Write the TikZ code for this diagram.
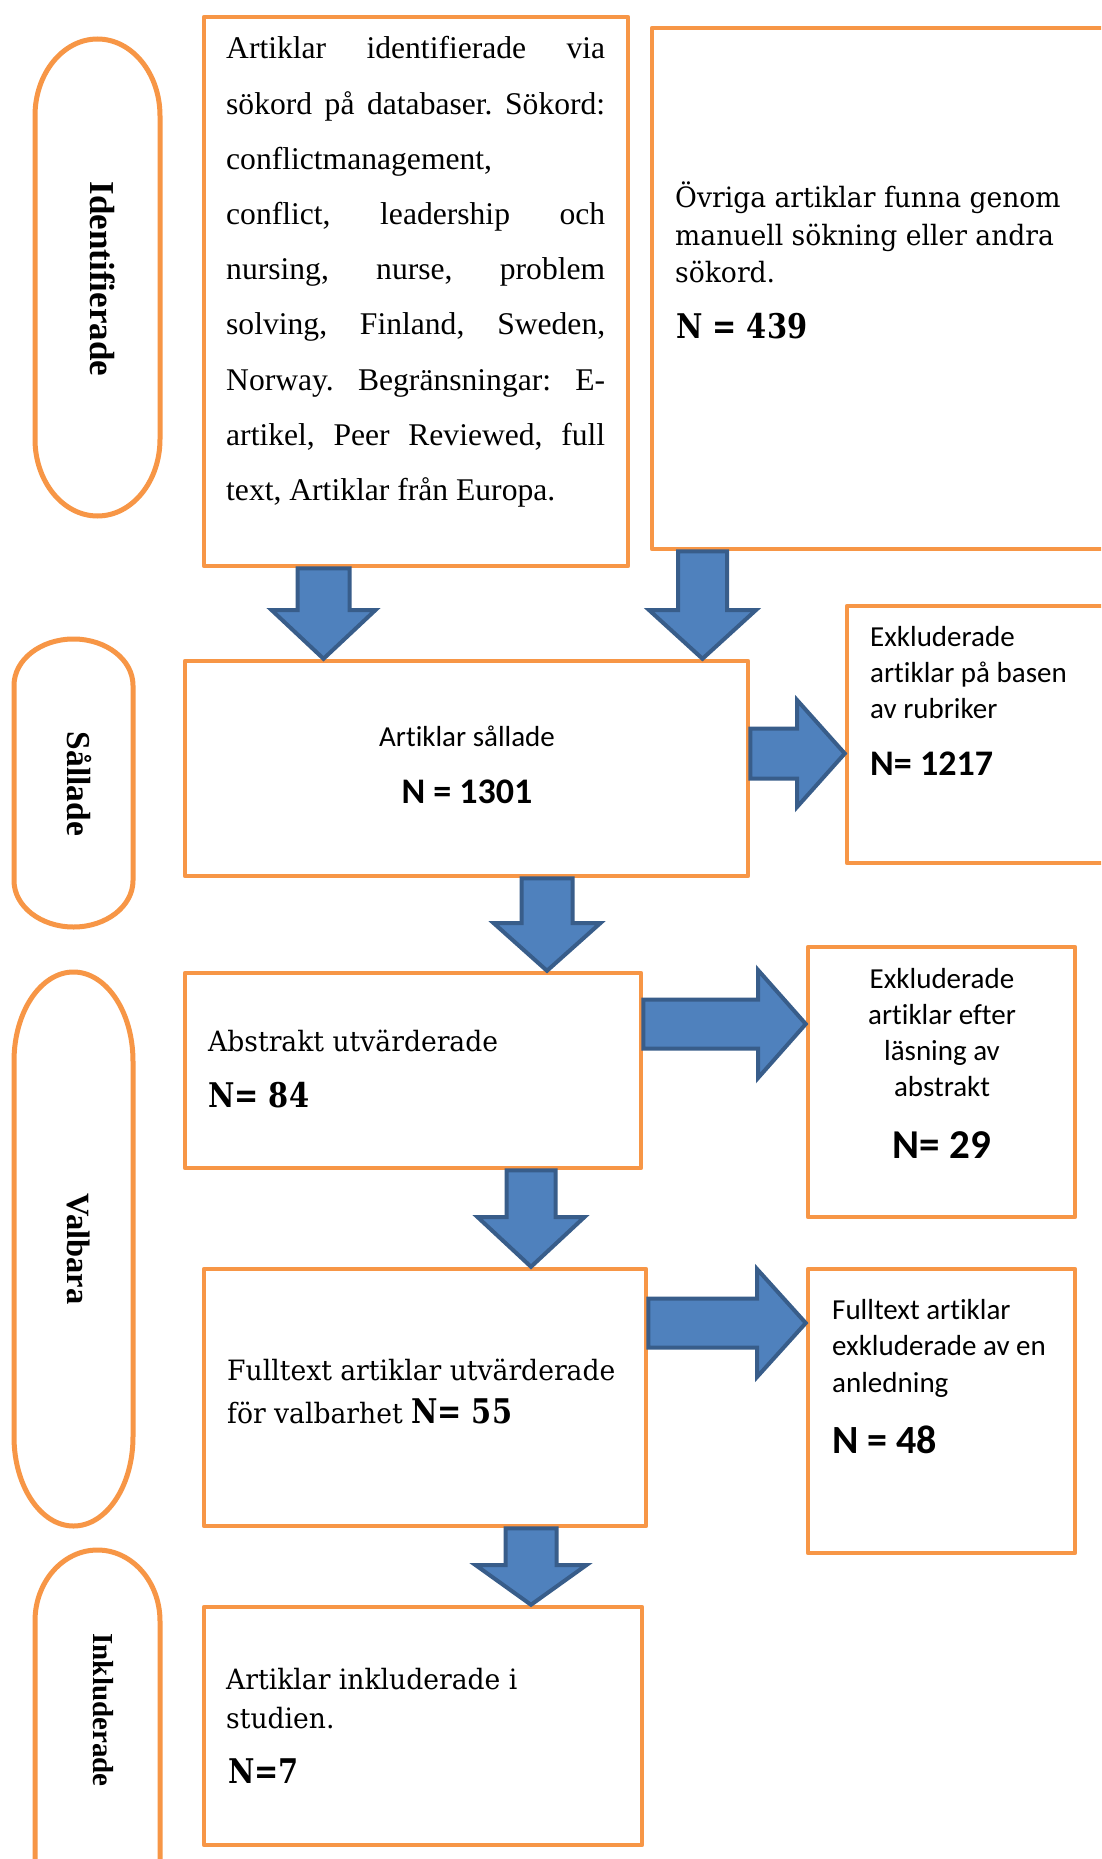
\documentclass[tikz,border=0pt]{standalone}
\usepackage{fontspec}
\usetikzlibrary{calc}

\newfontfamily\timesf[Ligatures=NoCommon]{Liberation Serif}
\newfontfamily\calf[Ligatures=NoCommon]{Carlito}
\newfontfamily\camf[FakeStretch=0.95,Ligatures=NoCommon]{DejaVu Serif}
\newfontfamily\cambf[FakeStretch=0.85]{DejaVu Serif}

\definecolor{boxorange}{HTML}{F79646}
\definecolor{arrowfill}{HTML}{4F81BD}
\definecolor{arrowline}{HTML}{385D8A}

\newcommand\fs[2]{\fontsize{#1pt}{#2pt}\selectfont}
% a stack of line boxes whose baseline is that of the first line
\newcommand\linesof[2]{\vtop{\baselineskip=#1pt\lineskiplimit=-200pt\lineskip=0pt #2}}

% block arrow pointing down: source, target, centre x, head base y, shaft half width, head half width
\newcommand\downblock[6]{%
  \draw[barrow] let \p1=(#1.south), \p2=(#2.north) in
    ({(#3-#5)*1pt},\y1) -- ({(#3+#5)*1pt},\y1) -- ({(#3+#5)*1pt},{-#4pt})
    -- ({(#3+#6)*1pt},{-#4pt}) -- ({#3pt},\y2) -- ({(#3-#6)*1pt},{-#4pt})
    -- ({(#3-#5)*1pt},{-#4pt}) -- cycle;}
% block arrow pointing right: source, target, centre y, head base x, shaft half width, head half width
\newcommand\rightblock[6]{%
  \draw[barrow] let \p1=(#1.east), \p2=(#2.west) in
    (\x1,{(#5-#3)*1pt}) -- ({#4pt},{(#5-#3)*1pt}) -- ({#4pt},{(#6-#3)*1pt})
    -- (\x2,{-#3pt}) -- ({#4pt},{(-#6-#3)*1pt}) -- ({#4pt},{(-#5-#3)*1pt})
    -- (\x1,{(-#5-#3)*1pt}) -- cycle;}
% vertical terminator outline: x1, y1, x2, y2, x radius, y radius
\newcommand\pillshape[6]{%
  \draw[pill] ({#1pt},{(-#2-#6)*1pt})
    arc[start angle=180,end angle=0,x radius=#5pt,y radius=#6pt]
    -- ({#3pt},{(-#4+#6)*1pt})
    arc[start angle=0,end angle=-180,x radius=#5pt,y radius=#6pt] -- cycle;}

\tikzset{
  box/.style={draw=boxorange, line width=4.5pt, fill=white, rectangle,
    inner sep=0pt, line join=round},
  pill/.style={draw=boxorange, line width=5pt},
  barrow/.style={draw=arrowline, fill=arrowfill, line width=4pt, line join=miter},
  txt/.style={inner sep=0pt, anchor=base west},
  ctxt/.style={inner sep=0pt, anchor=base},
  lab/.style={inner sep=0pt, rotate=-90},
}

\begin{document}
\frenchspacing
\begin{tikzpicture}[x=1pt,y=-1pt]
\useasboundingbox (0,0) rectangle (1101,1859);
\clip (0,0) rectangle (1101,1859);
\fill[white] (0,0) rectangle (1101,1859);

% stage labels
\pillshape{35}{39}{160}{516}{62.5}{76.8}
\pillshape{14}{639}{133}{927}{59.5}{46.4}
\pillshape{14}{972}{133}{1526}{59.5}{89.2}
\pillshape{35}{1550}{160}{1991}{62.5}{71}
\node[lab, font=\timesf\bfseries\fs{35}{40}] (l1) at (103,279) {Identifierade};
\node[lab, font=\timesf\bfseries\fs{33.5}{40}] (l2) at (79,784) {Sållade};
\node[lab, font=\timesf\bfseries\fs{32.5}{40}] (l3) at (79,1249) {Valbara};
\node[lab, font=\timesf\bfseries\fs{29}{34}] (l4) at (103,1710) {Inkluderade};

% boxes
\node[box, minimum width=424pt, minimum height=549pt] (b1) at (416,291.5) {};
\node[box, minimum width=478pt, minimum height=521pt] (b2) at (891,288.5) {};
\node[box, minimum width=563pt, minimum height=215pt] (b3) at (466.5,768.5) {};
\node[box, minimum width=283pt, minimum height=257pt] (b4) at (988.5,734.5) {};
\node[box, minimum width=456pt, minimum height=195pt] (b5) at (413,1070.5) {};
\node[box, minimum width=267pt, minimum height=270pt] (b6) at (941.5,1082) {};
\node[box, minimum width=442pt, minimum height=257pt] (b7) at (425,1397.5) {};
\node[box, minimum width=267pt, minimum height=284pt] (b8) at (941.5,1411) {};
\node[box, minimum width=438pt, minimum height=238pt] (b9) at (423,1726) {};

% box texts
\node[txt, font=\timesf\fs{31.6}{55.2}] (t1) at (226,59) {\linesof{55.2}{%
  \hbox to 379pt{Artiklar identifierade via}
  \hbox to 379pt{sökord på databaser. Sökord:}
  \hbox{conflictmanagement,}
  \hbox to 379pt{conflict, leadership och}
  \hbox to 379pt{nursing, nurse, problem}
  \hbox to 379pt{solving, Finland, Sweden,}
  \hbox to 379pt{Norway. Begränsningar: E-}
  \hbox to 379pt{artikel, Peer Reviewed, full}
  \hbox{text, Artiklar från Europa.}}};

\node[txt, font=\camf\fs{28}{37.5}] (t2) at (675,208) {\linesof{37.5}{%
  \hbox{Övriga artiklar funna genom}
  \hbox{manuell sökning eller andra}
  \hbox{sökord.}}};
\node[txt, font=\cambf\bfseries\fs{34}{40}] (n2) at (676,338) {N = 439};

\node[ctxt, font=\calf\fs{29}{36}] (t3) at (467,746) {Artiklar sållade};
\node[ctxt, font=\calf\bfseries\fs{36}{40}] (n3) at (467,803) {N = 1301};

\node[txt, font=\calf\fs{29}{36}] (t4) at (870,646) {\linesof{36}{%
  \hbox{Exkluderade}
  \hbox{artiklar på basen}
  \hbox{av rubriker}}};
\node[txt, font=\calf\bfseries\fs{36}{40}] (n4) at (870,775) {N= 1217};

\node[txt, font=\camf\fs{28}{36}] (t5) at (208,1051) {Abstrakt utvärderade};
\node[txt, font=\cambf\bfseries\fs{34}{40}] (n5) at (208,1107) {N= 84};

\node[ctxt, font=\calf\fs{29}{36}] (t6) at (942,988) {\linesof{36}{%
  \hbox to 250pt{\hss Exkluderade\hss}
  \hbox to 250pt{\hss artiklar efter\hss}
  \hbox to 250pt{\hss läsning av\hss}
  \hbox to 250pt{\hss abstrakt\hss}}};
\node[ctxt, font=\calf\bfseries\fs{41}{44}] (n6) at (942,1158) {N= 29};

\node[txt, font=\camf\fs{28}{43}] (t7) at (227,1380) {\linesof{43}{%
  \hbox{Fulltext artiklar utvärderade}
  \hbox{för valbarhet {\cambf\bfseries\fs{34}{40}N= 55}}}};

\node[txt, font=\calf\fs{29}{36.5}] (t8) at (832,1319) {\linesof{36.5}{%
  \hbox{Fulltext artiklar}
  \hbox{exkluderade av en}
  \hbox{anledning}}};
\node[txt, font=\calf\bfseries\fs{40}{44}] (n8) at (832,1453) {N = 48};

\node[txt, font=\camf\fs{28}{39}] (t9) at (226,1689) {\linesof{39}{%
  \hbox{Artiklar inkluderade i}
  \hbox{studien.}}};
\node[txt, font=\cambf\bfseries\fs{34}{40}] (n9) at (228,1783) {N=7};

% flow arrows
\downblock{b1}{b3}{323.5}{610}{26}{52}
\downblock{b2}{b3}{702.5}{610}{24.5}{53.5}
\rightblock{b3}{b4}{753.5}{797}{25}{53.5}
\downblock{b3}{b5}{547}{923}{25.5}{53.5}
\rightblock{b5}{b6}{1024}{758}{24.5}{54}
\downblock{b5}{b7}{531}{1217}{24.5}{53.5}
\rightblock{b7}{b8}{1323}{757}{24.5}{54}
\downblock{b7}{b9}{531}{1565}{25.5}{55.5}
\end{tikzpicture}
\end{document}
